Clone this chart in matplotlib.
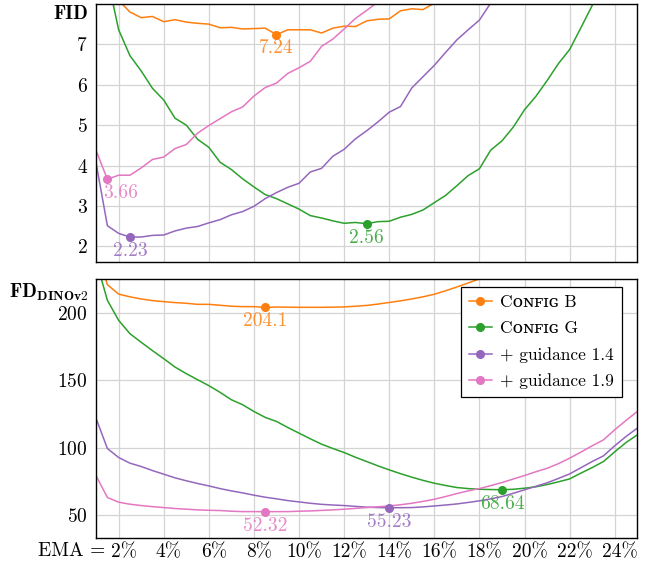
import numpy as np
import matplotlib
matplotlib.use("Agg")
import matplotlib.pyplot as plt
from matplotlib.lines import Line2D
from matplotlib.transforms import blended_transform_factory, ScaledTranslation

plt.rcParams.update({
    "font.family": ["cmr10", "DejaVu Serif"],
    "mathtext.fontset": "cm",
    "axes.unicode_minus": False,
    "axes.formatter.use_mathtext": True,
    "font.size": 14,
})

nan = np.nan

# EMA length (% of training) on the x axis
ema = [1.0, 1.5, 2.0, 2.5, 3.0, 3.5, 4.0, 4.5, 5.0, 5.5, 6.0, 6.5, 7.0, 7.5,
       8.0, 8.5, 9.0, 9.5, 10.0, 10.5, 11.0, 11.5, 12.0, 12.5, 13.0, 13.5,
       14.0, 14.5, 15.0, 15.5, 16.0, 16.5, 17.0, 17.5, 18.0, 18.5, 19.0, 19.5,
       20.0, 20.5, 21.0, 21.5, 22.0, 22.5, 23.0, 23.5, 24.0, 24.5, 25.0]

# FID
fid_b = [9.2, 8.5, 8.09, 7.80, 7.66, 7.69, 7.56, 7.61, 7.55, 7.52, 7.50, 7.41,
         7.42, 7.38, 7.39, 7.40, 7.24, 7.36, 7.36, 7.36, 7.28, 7.40, 7.45, 7.44,
         7.58, 7.62, 7.63, 7.83, 7.88, 7.86, 8.02, 8.2, nan, nan, nan, nan, nan,
         nan, nan, nan, nan, nan, nan, nan, nan, nan, nan, nan, nan]
fid_g = [9.8, 8.66, 7.36, 6.72, 6.34, 5.91, 5.62, 5.17, 5.00, 4.65, 4.45, 4.08,
         3.90, 3.67, 3.47, 3.28, 3.18, 3.05, 2.92, 2.76, 2.70, 2.63, 2.57, 2.59,
         2.56, 2.61, 2.62, 2.72, 2.79, 2.90, 3.08, 3.26, 3.50, 3.75, 3.92, 4.38,
         4.61, 4.95, 5.38, 5.71, 6.10, 6.52, 6.87, 7.41, 7.96, 8.5, nan, nan, nan]
fid_g14 = [4.06, 2.51, 2.32, 2.23, 2.23, 2.27, 2.28, 2.38, 2.45, 2.49, 2.58,
           2.66, 2.78, 2.86, 2.99, 3.18, 3.33, 3.46, 3.56, 3.84, 3.93, 4.23,
           4.40, 4.66, 4.86, 5.08, 5.32, 5.46, 5.92, 6.20, 6.48, 6.80, 7.11,
           7.36, 7.60, 8.02, 8.5, nan, nan, nan, nan, nan, nan, nan, nan, nan,
           nan, nan, nan]
fid_g19 = [4.37, 3.66, 3.76, 3.76, 3.94, 4.15, 4.21, 4.42, 4.52, 4.80, 4.99,
           5.16, 5.33, 5.45, 5.72, 5.93, 6.04, 6.28, 6.42, 6.58, 6.95, 7.13,
           7.38, 7.64, 7.84, 8.05, 8.4, nan, nan, nan, nan, nan, nan, nan, nan,
           nan, nan, nan, nan, nan, nan, nan, nan, nan, nan, nan, nan, nan, nan]

# FD_DINOv2
dino_b = [250, 221, 214, 212, 210.4, 209.2, 208.4, 207.7, 207.2, 206.4, 206.4,
          205.7, 205.0, 204.7, 204.7, 204.1, 204.4, 204.3, 204.2, 204.2, 204.2,
          204.3, 204.5, 205.0, 205.6, 206.6, 207.8, 209.0, 210.4, 212.0, 213.9,
          216.5, 219.3, 222.3, 225.3, 228.5, nan, nan, nan, nan, nan, nan, nan,
          nan, nan, nan, nan, nan, nan]
dino_g = [239, 209.4, 194.5, 184.6, 178.2, 172.0, 166.0, 159.8, 154.9, 150.4,
          146.0, 141.0, 135.5, 131.8, 126.8, 122.4, 119.4, 114.9, 110.7, 106.5,
          102.5, 99.3, 96.3, 92.8, 89.6, 86.4, 83.4, 80.6, 78.0, 75.6, 73.5,
          71.8, 70.3, 69.5, 69.0, 68.8, 68.64, 69.0, 69.8, 70.8, 72.5, 74.5,
          76.7, 81.0, 85.1, 89.6, 96.8, 103.7, 109.4]
dino_g14 = [121.6, 99.3, 92.6, 88.4, 85.9, 82.9, 80.2, 77.5, 75.3, 73.3, 71.5,
            69.5, 67.8, 66.3, 64.6, 63.1, 61.9, 60.6, 59.6, 58.6, 57.8, 57.3,
            56.9, 56.3, 55.7, 55.4, 55.23, 55.3, 55.4, 55.9, 56.6, 57.3, 58.1,
            59.2, 60.4, 61.9, 63.6, 66.0, 68.6, 71.2, 73.8, 77.0, 80.4, 85.0,
            89.6, 93.8, 101.3, 108.2, 114.4]
dino_g19 = [79.0, 62.9, 59.4, 57.9, 56.9, 56.1, 55.4, 54.7, 54.2, 53.7, 53.4,
            53.2, 52.7, 52.4, 52.4, 52.32, 52.4, 52.4, 52.7, 52.9, 53.3, 53.7,
            54.2, 54.8, 55.4, 56.0, 56.6, 57.5, 58.6, 60.0, 61.6, 63.6, 65.8,
            67.8, 69.5, 71.7, 74.0, 76.6, 79.2, 82.0, 84.6, 88.0, 92.1, 96.6,
            101.3, 105.7, 113.2, 120.1, 126.8]

names = ["C\u1d0f\u0274\ua730\u026a\u0262 B", "C\u1d0f\u0274\ua730\u026a\u0262 G",
         "+ guidance 1.4", "+ guidance 1.9"]
colors = ["#ff7f0e", "#2ca02c", "#9467bd", "#e377c2"]

# best EMA per series: (x, value) for each panel
fid_best_x = [9.0, 13.0, 2.5, 1.5]
fid_best = [7.24, 2.56, 2.23, 3.66]
dino_best_x = [8.5, 19.0, 14.0, 8.5]
dino_best = [204.1, 68.64, 55.23, 52.32]

fig = plt.figure(figsize=(6.45, 5.62), dpi=100)
ax1 = fig.add_axes([0.149, 0.533, 0.839, 0.460])
ax2 = fig.add_axes([0.149, 0.0432, 0.839, 0.4598])

xticks = [2, 4, 6, 8, 10, 12, 14, 16, 18, 20, 22, 24]

for ax in (ax1, ax2):
    ax.set_xlim(1, 25)
    ax.set_xticks(xticks)
    ax.grid(True, color="#d4d4d4", linewidth=0.9)
    ax.set_axisbelow(True)
    ax.tick_params(length=0, pad=6, labelsize=14)
    ax.tick_params(axis="x", pad=4)
    for s in ax.spines.values():
        s.set_linewidth(1.0)

ax1.set_ylim(1.6, 8)
ax1.set_yticks([2, 3, 4, 5, 6, 7])
ax1.set_xticklabels([])
ax2.set_ylim(33, 225)
ax2.set_yticks([50, 100, 150, 200])
ax2.set_xticklabels([f"{t}%" for t in xticks])
shift = ScaledTranslation(5 / 100, 0, fig.dpi_scale_trans)
for lbl in ax2.get_xticklabels():
    lbl.set_transform(lbl.get_transform() + shift)

for ys, c in zip([fid_b, fid_g, fid_g14, fid_g19], colors):
    ax1.plot(ema, ys, color=c, linewidth=1.1)
for ys, c in zip([dino_b, dino_g, dino_g14, dino_g19], colors):
    ax2.plot(ema, ys, color=c, linewidth=1.1)

# highlight the minimum of each curve
for bx, bv, c, dx in zip(fid_best_x, fid_best, colors, [0, 0, 0, 9.6]):
    ax1.plot(bx, bv, "o", color=c, markersize=5.5, zorder=5)
    ax1.annotate(f"{bv:.2f}", (bx, bv), xytext=(dx, -10),
                 textcoords="offset points", ha="center", va="center",
                 color=c, fontsize=14, alpha=0.85)
for bx, bv, c in zip(dino_best_x, dino_best, colors):
    ax2.plot(bx, bv, "o", color=c, markersize=5.5, zorder=5)
    ax2.annotate(f"{bv:g}", (bx, bv), xytext=(0, -10),
                 textcoords="offset points", ha="center", va="center",
                 color=c, fontsize=14, alpha=0.85)

ax1.text(-0.014, 0.995, "FID", transform=ax1.transAxes, ha="right", va="top",
         fontsize=14, fontfamily="cmb10")
ax2.text(-0.014, 0.99, r"$\mathbf{FD}_{\mathbf{DINOv2}}$", transform=ax2.transAxes,
         ha="right", va="top", fontsize=14)

tr = blended_transform_factory(ax2.transData, ax2.transAxes)
ax2.text(1.42, -0.052, "EMA =", transform=tr, ha="right", va="center",
         fontsize=14)

handles = [Line2D([], [], color=c, linewidth=1.1, marker="o", markersize=5.5)
           for c in colors]
leg = ax2.legend(handles, names, loc="upper right", bbox_to_anchor=(0.972, 0.97),
                 fancybox=False, framealpha=1, edgecolor="black", fontsize=12.5,
                 handlelength=1.3, handletextpad=0.5, borderpad=0.45,
                 borderaxespad=0, labelspacing=0.62)
leg.get_frame().set_linewidth(0.9)

fig.savefig("out.png", dpi=100)
